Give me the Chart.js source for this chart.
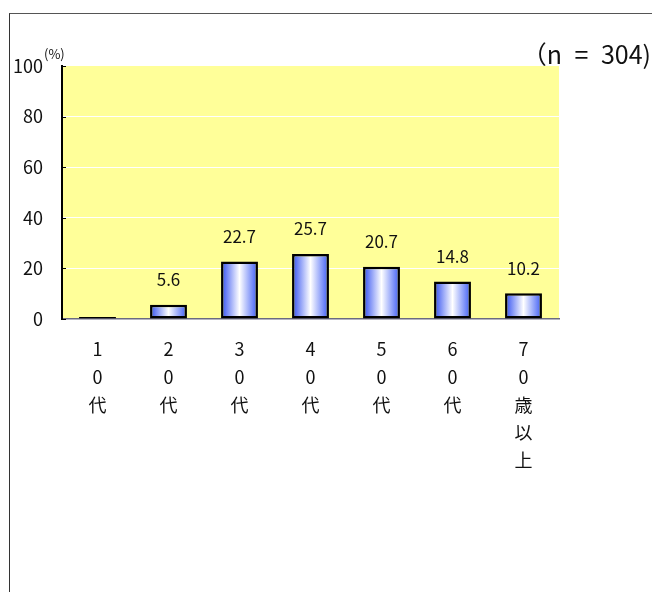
<!DOCTYPE html>
<html lang="ja">
<head>
  <meta charset="UTF-8" />
  <title>年代別</title>
  <script src="https://cdn.jsdelivr.net/npm/chart.js"></script>
  <style>
    html, body { margin: 0; padding: 0; background: #fff; }
    .wrap { position: relative; width: 653px; height: 592px; }
    .frame {
      position: absolute; left: 9px; top: 13px; right: 1px; bottom: -2px;
      border-top: 1px solid #555; border-left: 1px solid #333;
      pointer-events: none;
    }
    canvas { position: absolute; left: 0; top: 0; }
  </style>
</head>
<body>
  <div class="wrap">
    <canvas id="ageChart" width="653" height="592"></canvas>
    <div class="frame"></div>
  </div>

  <script>
    const categories = ['10代', '20代', '30代', '40代', '50代', '60代', '70歳以上'];
    const values = [0.3, 5.6, 22.7, 25.7, 20.7, 14.8, 10.2];
    const yTicks = [0, 20, 40, 60, 80, 100];
    const sampleNote = '（n\u2002=\u2002304)';
    const unitNote = '(%)';

    const fontFamily = '"Noto Sans CJK JP", "Liberation Sans", sans-serif';
    const barPct = 0.52;

    function barGradient(ctx) {
      const chart = ctx.chart;
      const xs = chart.scales && chart.scales.x;
      if (!xs || !chart.chartArea || ctx.dataIndex === undefined) return '#8899ff';
      const cx = xs.getPixelForValue(ctx.dataIndex);
      const half = (xs.width / categories.length) * barPct / 2;
      const g = chart.ctx.createLinearGradient(cx - half, 0, cx + half, 0);
      g.addColorStop(0, '#2f4df0');
      g.addColorStop(0.5, '#ffffff');
      g.addColorStop(1, '#3b5af5');
      return g;
    }

    const decorations = {
      id: 'decorations',
      beforeDraw(chart) {
        const { ctx, chartArea: a } = chart;
        ctx.save();
        ctx.fillStyle = '#ffff99';
        ctx.fillRect(a.left, a.top, a.right - a.left, a.bottom - a.top);
        ctx.restore();
      },
      afterDatasetsDraw(chart) {
        const { ctx } = chart;
        const meta = chart.getDatasetMeta(0);
        ctx.save();
        ctx.fillStyle = '#111';
        ctx.font = '17px ' + fontFamily;
        ctx.textAlign = 'center';
        ctx.textBaseline = 'middle';
        meta.data.forEach((bar, i) => {
          if (values[i] < 1) return;
          ctx.fillText(values[i].toFixed(1), bar.x, bar.y - 25);
        });
        // inward tick marks on the value axis
        const ys = chart.scales.y;
        ctx.strokeStyle = '#000';
        ctx.lineWidth = 1;
        yTicks.forEach(t => {
          const y = Math.round(ys.getPixelForValue(t)) + 0.5;
          ctx.beginPath();
          ctx.moveTo(ys.right, y);
          ctx.lineTo(ys.right + 4, y);
          ctx.stroke();
        });
        ctx.restore();
      },
      afterDraw(chart) {
        const { ctx } = chart;
        ctx.save();
        ctx.fillStyle = '#111';
        ctx.textBaseline = 'middle';
        ctx.font = '13px ' + fontFamily;
        ctx.textAlign = 'left';
        ctx.fillText(unitNote, 44, 54);
        ctx.font = '25px ' + fontFamily;
        ctx.textAlign = 'right';
        ctx.fillText(sampleNote, 651, 54);
        ctx.restore();
      }
    };

    new Chart(document.getElementById('ageChart'), {
      type: 'bar',
      data: {
        labels: categories.map(c => Array.from(c)),
        datasets: [{
          data: values,
          backgroundColor: barGradient,
          borderColor: '#000',
          borderWidth: 2.5,
          borderSkipped: false,
          barPercentage: barPct,
          categoryPercentage: 1,
          minBarLength: 2
        }]
      },
      options: {
        responsive: false,
        animation: false,
        layout: { padding: { left: 10, right: 94, top: 66, bottom: 0 } },
        plugins: { legend: { display: false }, tooltip: { enabled: false } },
        scales: {
          x: {
            grid: { display: false },
            border: { color: '#6b6b80', width: 1.5 },
            ticks: {
              color: '#111',
              font: { family: fontFamily, size: 18, lineHeight: 1.55 },
              padding: 8,
              maxRotation: 0,
              autoSkip: false
            },
            afterFit(scale) { scale.height = 592 - 319; }
          },
          y: {
            min: 0,
            max: 100,
            grid: {
              color: ctx => (ctx.tick && (ctx.tick.value === 0 || ctx.tick.value === 100)) ? 'rgba(0,0,0,0)' : '#ffffff',
              lineWidth: 1,
              drawTicks: false
            },
            border: { color: '#000', width: 2 },
            afterBuildTicks(scale) { scale.ticks = yTicks.map(v => ({ value: v })); },
            ticks: {
              color: '#111',
              font: { family: fontFamily, size: 18 },
              padding: 19
            },
            afterFit(scale) { scale.width = 52; }
          }
        }
      },
      plugins: [decorations]
    });
  </script>
</body>
</html>
